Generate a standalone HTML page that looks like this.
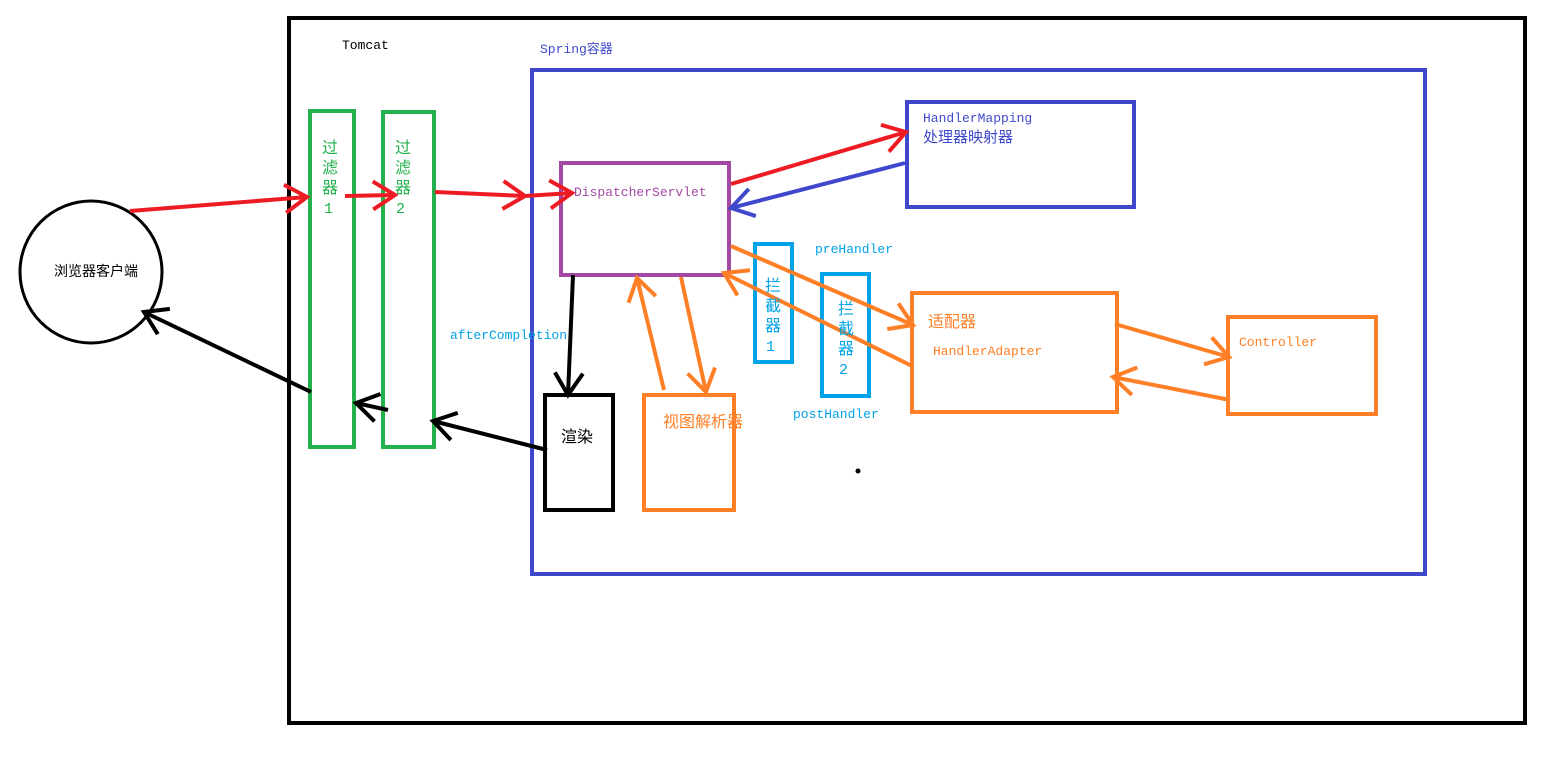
<!DOCTYPE html>
<html><head><meta charset="utf-8"><style>
html,body{margin:0;padding:0;background:#fff;width:1552px;height:764px;overflow:hidden}
svg text{font-family:"Liberation Mono","Noto Sans CJK SC",monospace;font-size:13px}
svg text.v{font-size:16px}
svg text.n{font-size:15px}
</style></head><body>
<svg width="1552" height="764" xmlns="http://www.w3.org/2000/svg">
<defs>
<marker id="r" markerUnits="userSpaceOnUse" markerWidth="40" markerHeight="40" refX="30" refY="20" orient="auto"><path d="M8,6 L30,20 L8,34" fill="none" stroke="#ed1c24" stroke-width="4"/></marker>
<marker id="b" markerUnits="userSpaceOnUse" markerWidth="40" markerHeight="40" refX="30" refY="20" orient="auto"><path d="M8,6 L30,20 L8,34" fill="none" stroke="#3f48cc" stroke-width="4"/></marker>
<marker id="o" markerUnits="userSpaceOnUse" markerWidth="40" markerHeight="40" refX="30" refY="20" orient="auto"><path d="M8,6 L30,20 L8,34" fill="none" stroke="#ff7f27" stroke-width="4"/></marker>
<marker id="k" markerUnits="userSpaceOnUse" markerWidth="40" markerHeight="40" refX="30" refY="20" orient="auto"><path d="M8,6 L30,20 L8,34" fill="none" stroke="#000" stroke-width="4"/></marker>
</defs>
<rect x="289" y="18" width="1236" height="705" fill="none" stroke="#000" stroke-width="4"/>
<rect x="532" y="70" width="893" height="504" fill="none" stroke="#3f48cc" stroke-width="4"/>
<circle cx="91" cy="272" r="71" fill="none" stroke="#000" stroke-width="3"/>
<rect x="310" y="111" width="44" height="336" fill="none" stroke="#22b14c" stroke-width="4"/>
<rect x="383" y="112" width="51" height="335" fill="none" stroke="#22b14c" stroke-width="4"/>
<rect x="561" y="163" width="168" height="112" fill="none" stroke="#a349a4" stroke-width="4"/>
<rect x="907" y="102" width="227" height="105" fill="none" stroke="#3f48cc" stroke-width="4"/>
<rect x="755" y="244" width="37" height="118" fill="none" stroke="#00a2e8" stroke-width="4"/>
<rect x="822" y="274" width="47" height="122" fill="none" stroke="#00a2e8" stroke-width="4"/>
<rect x="912" y="293" width="205" height="119" fill="none" stroke="#ff7f27" stroke-width="4"/>
<rect x="1228" y="317" width="148" height="97" fill="none" stroke="#ff7f27" stroke-width="4"/>
<rect x="545" y="395" width="68" height="115" fill="none" stroke="#000" stroke-width="4"/>
<rect x="644" y="395" width="90" height="115" fill="none" stroke="#ff7f27" stroke-width="4"/>
<g stroke-width="4" fill="none">
<line x1="130" y1="211" x2="307" y2="197" stroke="#ed1c24" marker-end="url(#r)"/>
<line x1="345" y1="196" x2="395" y2="195" stroke="#ed1c24" marker-end="url(#r)"/>
<line x1="435" y1="192" x2="525" y2="196" stroke="#ed1c24" marker-end="url(#r)"/>
<line x1="525" y1="196" x2="572" y2="193" stroke="#ed1c24" marker-end="url(#r)"/>
<line x1="731" y1="184" x2="906" y2="132" stroke="#ed1c24" marker-end="url(#r)"/>
<line x1="905" y1="163" x2="731" y2="208" stroke="#3f48cc" marker-end="url(#b)"/>
<line x1="731" y1="246" x2="913" y2="325" stroke="#ff7f27" marker-end="url(#o)"/>
<line x1="912" y1="366" x2="724" y2="273" stroke="#ff7f27" marker-end="url(#o)"/>
<line x1="1115" y1="324" x2="1229" y2="357" stroke="#ff7f27" marker-end="url(#o)"/>
<line x1="1230" y1="400" x2="1113" y2="377" stroke="#ff7f27" marker-end="url(#o)"/>
<line x1="664" y1="390" x2="637" y2="278" stroke="#ff7f27" marker-end="url(#o)"/>
<line x1="681" y1="277" x2="706" y2="392" stroke="#ff7f27" marker-end="url(#o)"/>
<line x1="573" y1="275" x2="568" y2="395" stroke="#000" marker-end="url(#k)"/>
<line x1="547" y1="450" x2="433" y2="421" stroke="#000" marker-end="url(#k)"/>
<line x1="388" y1="410" x2="356" y2="403" stroke="#000" marker-end="url(#k)"/>
<line x1="311" y1="392" x2="144" y2="312" stroke="#000" marker-end="url(#k)"/>
</g>
<circle cx="858" cy="471" r="2.5" fill="#000"/>
<text x="342" y="49" fill="#000">Tomcat</text>
<text x="540" y="53" fill="#3f48cc">Spring容器</text>
<text x="54" y="276" fill="#000" style="font-family:'Noto Sans CJK SC',sans-serif;font-size:14px">浏览器客户端</text>
<g fill="#22b14c">
<text class="v" x="322" y="153">过</text><text class="v" x="322" y="173">滤</text><text class="v" x="322" y="193">器</text><text class="n" x="324" y="213">1</text>
<text class="v" x="395" y="153">过</text><text class="v" x="395" y="173">滤</text><text class="v" x="395" y="193">器</text><text class="n" x="396" y="213">2</text>
</g>
<text x="574" y="196" fill="#a349a4">DispatcherServlet</text>
<text x="923" y="122" fill="#3f48cc">HandlerMapping</text>
<text x="923" y="142" fill="#3f48cc" style="font-size:15px">处理器映射器</text>
<text x="815" y="253" fill="#00a2e8">preHandler</text>
<text x="793" y="418" fill="#00a2e8">postHandler</text>
<text x="450" y="339" fill="#00a2e8">afterCompletion</text>
<g fill="#00a2e8">
<text class="v" x="765" y="291">拦</text><text class="v" x="765" y="311">截</text><text class="v" x="765" y="331">器</text><text class="n" x="766" y="351">1</text>
<text class="v" x="838" y="314">拦</text><text class="v" x="838" y="334">截</text><text class="v" x="838" y="354">器</text><text class="n" x="839" y="374">2</text>
</g>
<text x="928" y="327" fill="#ff7f27" style="font-size:16px">适配器</text>
<text x="933" y="355" fill="#ff7f27">HandlerAdapter</text>
<text x="1239" y="346" fill="#ff7f27">Controller</text>
<text x="663" y="427" fill="#ff7f27" style="font-size:16px">视图解析器</text>
<text x="561" y="442" fill="#000" style="font-size:16px">渲染</text>
</svg>
</body></html>
